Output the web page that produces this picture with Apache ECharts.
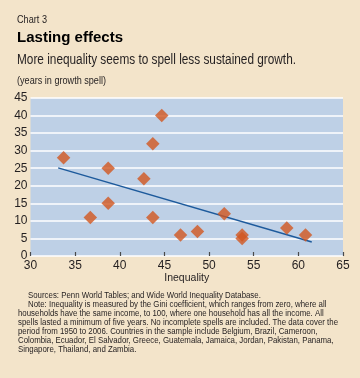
<!DOCTYPE html>
<html><head><meta charset="utf-8">
<script src="https://cdn.jsdelivr.net/npm/echarts@6/dist/echarts.min.js"></script>
<style>html,body{margin:0;padding:0;background:#f3e4ca;}#c{width:360px;height:378px;}</style>
</head><body><div id="c"></div>
<script>
// Data
const inequality = [33.7, 36.7, 38.7, 38.7, 42.7, 43.7, 43.7, 44.7, 46.8, 48.7, 51.7, 53.7, 53.7, 58.7, 60.8];
const spellYears = [28, 11, 25, 15, 22, 32, 11, 40, 6, 7, 12, 6, 5, 8, 6];
const trendX = [33.1, 61.5];
const trendY = [25.1, 4.0];
const xTicks = [30, 35, 40, 45, 50, 55, 60, 65];
const yTicks = [0, 5, 10, 15, 20, 25, 30, 35, 40, 45];

const FONT = '"Liberation Sans",Arial,sans-serif';
const TXT = '#231f20';
const footLines = [
  'Sources: Penn World Tables; and Wide World Inequality Database.',
  'Note: Inequality is measured by the Gini coefficient, which ranges from zero, where all',
  'households have the same income, to 100, where one household has all the income. All',
  'spells lasted a minimum of five years. No incomplete spells are included. The data cover the',
  'period from 1950 to 2006. Countries in the sample include Belgium, Brazil, Cameroon,',
  'Colombia, Ecuador, El Salvador, Greece, Guatemala, Jamaica, Jordan, Pakistan, Panama,',
  'Singapore, Thailand, and Zambia.'
];
const footIndent = [1, 1, 0, 0, 0, 0, 0];

const ctx = document.createElement('canvas').getContext('2d');
function width(text, font) { ctx.font = font; return ctx.measureText(text).width; }

function txt(text, x, y, font, targetW, fill) {
  const w = width(text, font);
  return {type: 'text', x: x, y: y, scaleX: targetW ? targetW / w : 1,
    style: {text: text, fill: fill || TXT, font: font, verticalAlign: 'middle', align: 'left'}};
}

const footFont = '9.6px ' + FONT;
const footScale = 320 / width(footLines[3], footFont);
const graphics = [
  txt('Chart 3', 17, 19.7, '10.5px ' + FONT, 30),
  txt('Lasting effects', 17, 38, 'bold 15.5px ' + FONT, 106, '#000'),
  txt('More inequality seems to spell less sustained growth.', 17, 60.5, '14px ' + FONT, 279),
  txt('(years in growth spell)', 17, 81, '10px ' + FONT, 89)
];
footLines.forEach((l, i) => {
  graphics.push({type: 'text', x: footIndent[i] ? 28 : 18, y: 295 + 9 * i, scaleX: footScale,
    style: {text: l, fill: TXT, font: footFont, verticalAlign: 'middle'}});
});

const chart = echarts.init(document.getElementById('c'), null, {renderer: 'canvas'});
const pts = inequality.map((x, i) => [x, spellYears[i]]);
const trend = trendX.map((x, i) => [x, trendY[i]]);

chart.setOption({
  backgroundColor: '#f3e4ca',
  animation: false,
  grid: {left: 30.5, right: 17, top: 98, bottom: 122, show: true, backgroundColor: '#bed0e6', borderWidth: 0},
  xAxis: {
    type: 'value', min: xTicks[0], max: xTicks[xTicks.length - 1], interval: 5,
    axisLine: {show: false},
    axisTick: {show: true, inside: true, length: 4, lineStyle: {color: '#4a4a4a', width: 1.2}},
    splitLine: {show: false},
    axisLabel: {color: TXT, fontFamily: FONT, fontSize: 12, margin: 4},
    name: 'Inequality', nameLocation: 'middle', nameGap: 17,
    nameTextStyle: {color: TXT, fontFamily: FONT, fontSize: 10.5}
  },
  yAxis: {
    type: 'value', min: yTicks[0], max: yTicks[yTicks.length - 1], interval: 5,
    axisLine: {show: false}, axisTick: {show: false},
    splitLine: {show: true, lineStyle: {color: '#ffffff', width: 1.5}},
    axisLabel: {color: TXT, fontFamily: FONT, fontSize: 12, margin: 3}
  },
  series: [
    {type: 'line', data: trend, symbol: 'none', lineStyle: {color: '#1d5a9c', width: 1.5}, z: 2},
    {type: 'scatter', data: pts, symbol: 'diamond', symbolSize: 13.5, itemStyle: {color: '#d2561f'}, z: 3}
  ],
  graphic: graphics
});
</script></body></html>
